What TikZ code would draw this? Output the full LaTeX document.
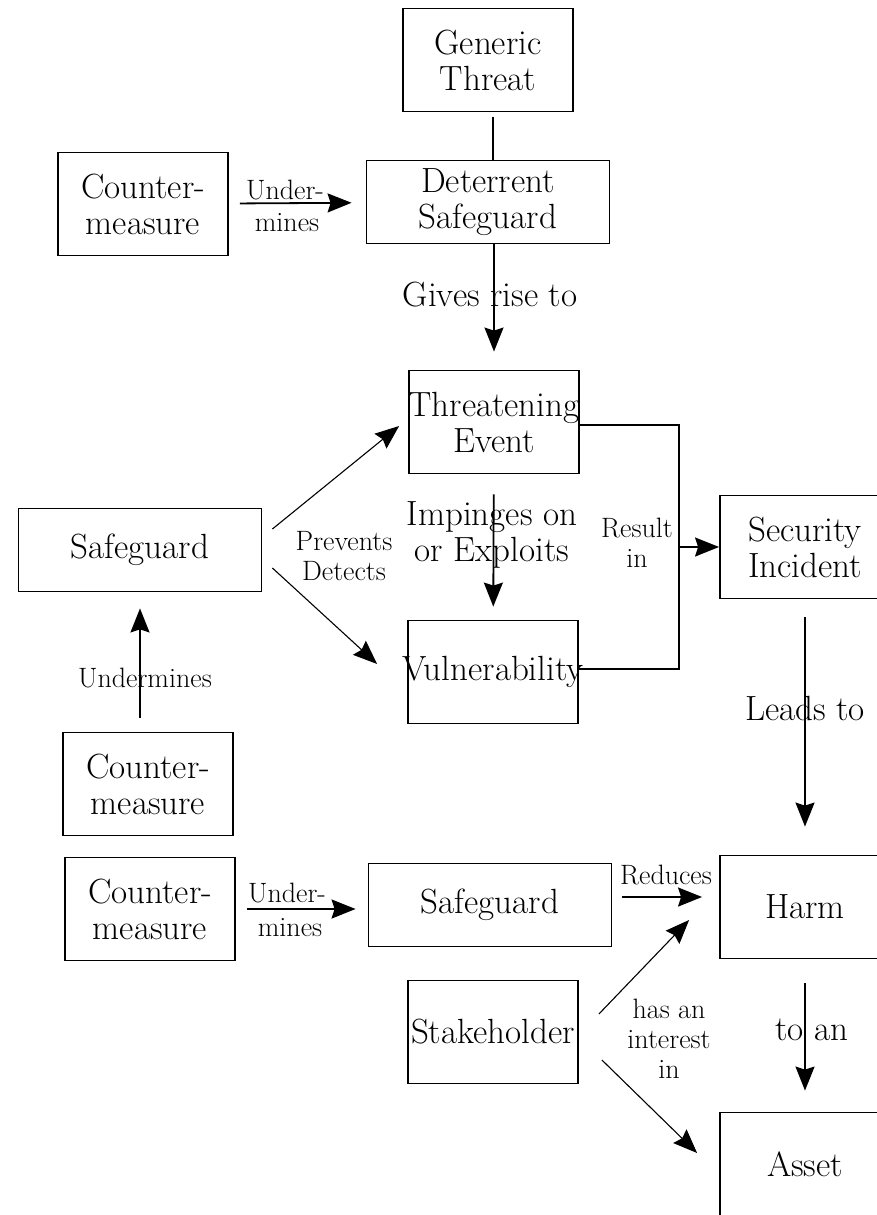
\documentclass[tikz,border=0pt]{standalone}
\usepackage{fontspec}
\usetikzlibrary{arrows.meta}
\newcommand{\boxfont}{\fontsize{35}{36}\selectfont}
\newcommand{\labfont}{\fontsize{28}{30}\selectfont}

\begin{document}
\begin{tikzpicture}[x=1pt,y=-1pt,
	box/.style={draw, line width=1.8pt, inner sep=0pt, align=center, font=\boxfont,
		minimum width=170pt, minimum height=103pt},
	widebox/.style={box, minimum width=243pt, minimum height=83pt},
	big/.style={inner sep=0pt, align=center, font=\boxfont},
	lab/.style={inner sep=0pt, align=center, font=\labfont},
	plain/.style={line width=1.8pt},
	arr/.style={line width=1.8pt, -{Stealth[length=24pt,width=19pt,inset=3pt]}},
	thinarr/.style={line width=1.1pt, -{Stealth[length=24pt,width=19pt,inset=3pt]}}]
	\useasboundingbox (0,0) rectangle (877,1215);
	\node[box] (gt) at (488,60) {Generic\\Threat};
	\node[widebox] (ds) at (488,202) {Deterrent\\Safeguard};
	\node[box] (cm1) at (143,204) {Counter-\\measure};
	\node[box] (te) at (494,422) {\makebox[0pt]{Threatening}\\Event};
	\node[widebox] (sg1) at (140,550) {Safeguard};
	\node[box] (vu) at (493,672) {\makebox[0pt]{Vulnerability}};
	\node[box] (si) at (805,547) {Security\\Incident};
	\node[box] (cm2) at (148,784) {Counter-\\measure};
	\node[box] (cm3) at (150,909) {Counter-\\measure};
	\node[widebox] (sg2) at (490,905) {Safeguard};
	\node[box] (ha) at (805,907) {Harm};
	\node[box] (st) at (493,1032) {\makebox[0pt]{Stakeholder}};
	\node[box] (as) at (805,1164) {Asset};
	\coordinate (ri) at (679,547);

	\draw[plain] ([xshift=5pt,yshift=-5pt]gt.south) -- ([xshift=5pt]ds.north);
	\draw[arr, shorten <=11pt, shorten >=14pt] (cm1) -- (ds);
	\node[lab] (un1) at (285,190) {Under-};
	\node[lab] (mi1) at (287,223) {mines};
	\draw[arr, shorten >=18pt] (ds.south -| te.north) -- (te.north);
	\node[big] (gr) at (490,295) {Gives rise to};
	\draw[thinarr] ([shift={(10,-21)}]sg1.east) -- ([shift={(-9,4)}]te.west);
	\draw[thinarr] ([shift={(10,18)}]sg1.east) -- ([shift={(-30,-8)}]vu.west);
	\node[lab] (pd) at (344,556) {Prevents\\Detects};
	\draw[arr, shorten <=20pt, shorten >=13pt] (te) -- (vu);
	\node[big] (ie) at (492,535) {Impinges on\\or Exploits};
	\draw[plain] ([yshift=-3pt]te.east) -| (ri) |- ([yshift=3pt]vu.east);
	\draw[arr] (ri) -- (si.west);
	\node[lab] (rs) at (637,543) {Result\\in};
	\draw[arr, shorten <=18pt, shorten >=28pt] (si) -- (ha);
	\node[big] (lt) at (805,708) {Leads to};
	\draw[arr, shorten <=14pt, shorten >=16pt] (cm2.north -| sg1.south) -- (sg1.south);
	\node[lab] (um) at (145,678) {Undermines};
	\draw[arr, shorten <=11pt, shorten >=12pt] (cm3.east) -- (cm3.east -| sg2.west);
	\node[lab] (un2) at (287,893) {Under-};
	\node[lab] (mi2) at (290,928) {mines};
	\draw[arr, shorten <=10pt, shorten >=17pt] ([yshift=8pt]sg2.east) -- ([yshift=8pt]sg2.east -| ha.west);
	\node[lab] (rd) at (666,875) {Reduces};
	\draw[thinarr] ([shift={(20,-18)}]st.east) -- ([shift={(-30,13)}]ha.west);
	\draw[thinarr] ([shift={(23,28)}]st.east) -- ([shift={(-22,-11)}]as.west);
	\node[lab] (hi) at (669,1039) {has an\\interest\\in};
	\draw[arr, shorten <=24pt, shorten >=21pt] (ha) -- (as);
	\node[big] (ta) at (812,1030) {to an};
\end{tikzpicture}
\end{document}
